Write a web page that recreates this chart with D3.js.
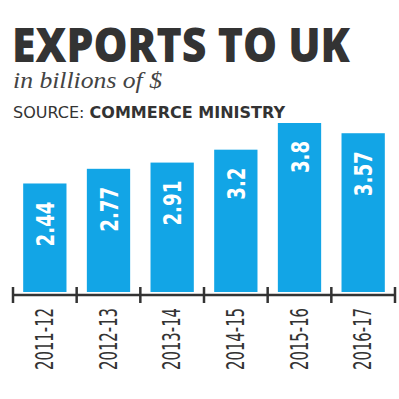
<!DOCTYPE html>
<html>
<head>
  <meta charset="utf-8">
  <script src="https://d3js.org/d3.v7.min.js"></script>
  <style>
    body { margin: 0; background: #fff; }
    svg { display: block; }
  </style>
</head>
<body>
<script>
  // data
  var years = ["2011-12", "2012-13", "2013-14", "2014-15", "2015-16", "2016-17"];
  var exports = [2.44, 2.77, 2.91, 3.2, 3.8, 3.57];
  var valueLabels = ["2.44", "2.77", "2.91", "3.2", "3.8", "3.57"];

  var width = 399, height = 399;
  var narrow = "'Liberation Sans Narrow', 'DejaVu Sans Condensed', 'Roboto', sans-serif";

  var svg = d3.select("body").append("svg")
      .attr("width", width)
      .attr("height", height);

  // titles
  svg.append("text")
      .attr("x", 12).attr("y", 62)
      .attr("textLength", 338).attr("lengthAdjust", "spacingAndGlyphs")
      .style("font-family", "'Open Sans', sans-serif")
      .style("font-weight", 800)
      .style("font-size", "47px")
      .style("fill", "#333")
      .text("EXPORTS TO UK");

  svg.append("text")
      .attr("x", 13).attr("y", 88)
      .attr("textLength", 149).attr("lengthAdjust", "spacingAndGlyphs")
      .style("font-family", "'Liberation Serif', 'DejaVu Serif', serif")
      .style("font-style", "italic")
      .style("font-size", "23px")
      .style("fill", "#444")
      .text("in billions of $");

  var src = svg.append("text")
      .attr("x", 13).attr("y", 118)
      .attr("textLength", 272).attr("lengthAdjust", "spacingAndGlyphs")
      .style("font-family", "'DejaVu Sans', sans-serif")
      .style("font-size", "15px")
      .style("fill", "#333");
  src.append("tspan").text("SOURCE: ");
  src.append("tspan").style("font-weight", "bold").text("COMMERCE MINISTRY");

  // chart
  var axisY = 295;
  var x = d3.scaleBand().domain(years).range([13, 395]).paddingInner(0.32).paddingOuter(0.16);
  var y = d3.scaleLinear().domain([0, 3.8]).range([292, 123]);

  var g = svg.append("g");

  g.selectAll("rect.bar")
      .data(exports)
      .join("rect")
      .attr("class", "bar")
      .attr("x", function (d, i) { return x(years[i]); })
      .attr("y", function (d) { return y(d); })
      .attr("width", x.bandwidth())
      .attr("height", function (d) { return y(0) - y(d); })
      .style("fill", "#12a5e6");

  // value labels, rotated, inside top of bar
  g.selectAll("text.val")
      .data(exports)
      .join("text")
      .attr("class", "val")
      .attr("transform", function (d, i) {
        return "translate(" + (x(years[i]) + x.bandwidth() / 2 + 9) + "," + (y(d) + 18) + ") rotate(-90)";
      })
      .attr("text-anchor", "end")
      .attr("textLength", function (d, i) { return valueLabels[i].length > 3 ? 45 : 32; })
      .attr("lengthAdjust", "spacingAndGlyphs")
      .style("font-family", narrow)
      .style("font-weight", "bold")
      .style("font-size", "25px")
      .style("fill", "#fff")
      .text(function (d, i) { return valueLabels[i]; });

  // axis line with ticks at band edges
  g.append("line")
      .attr("x1", 13).attr("x2", 395)
      .attr("y1", axisY).attr("y2", axisY)
      .style("stroke", "#333").style("stroke-width", 2.5);

  var edges = years.map(function (d) { return x(d) - x.step() * x.paddingInner() / 2; });
  edges.push(395);
  g.selectAll("line.tick")
      .data(edges)
      .join("line")
      .attr("class", "tick")
      .attr("x1", function (d) { return d; }).attr("x2", function (d) { return d; })
      .attr("y1", 287).attr("y2", 303)
      .style("stroke", "#333").style("stroke-width", 2.5);

  g.selectAll("text.year")
      .data(years)
      .join("text")
      .attr("class", "year")
      .attr("transform", function (d) {
        return "translate(" + (x(d) + x.bandwidth() / 2 + 8) + ",308) rotate(-90)";
      })
      .attr("text-anchor", "end")
      .attr("textLength", 62)
      .attr("lengthAdjust", "spacingAndGlyphs")
      .style("font-family", narrow)
      .style("font-size", "24px")
      .style("fill", "#333")
      .text(function (d) { return d; });
</script>
</body>
</html>
